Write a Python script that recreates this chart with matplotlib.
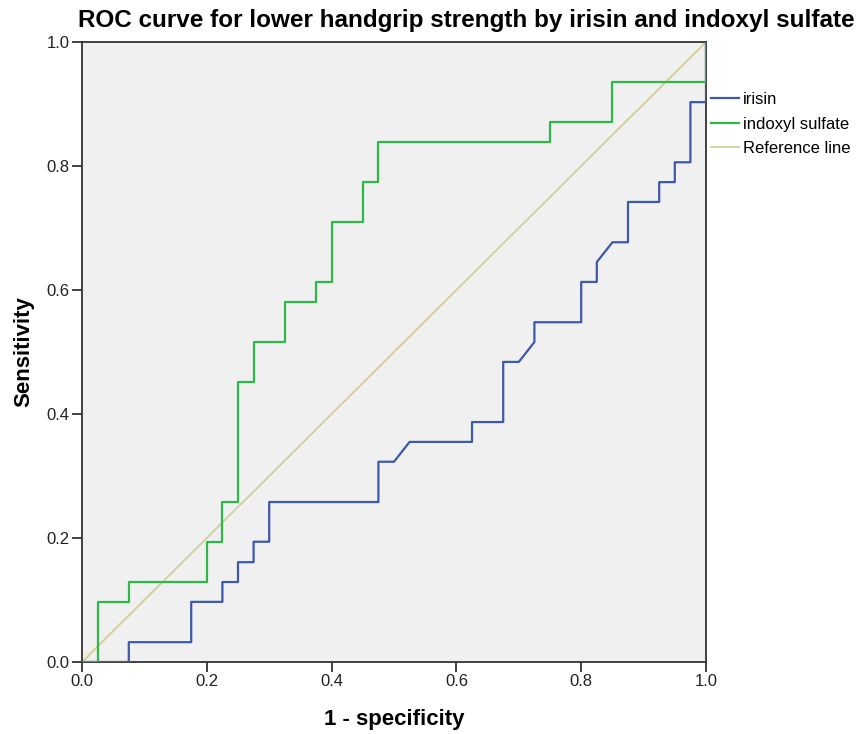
import matplotlib
matplotlib.use("Agg")
import matplotlib.pyplot as plt

plt.rcParams['font.family'] = ['Liberation Sans', 'DejaVu Sans']

# ROC vertices (1 - specificity, sensitivity)
irisin_fpr = [0, 0.075, 0.075, 0.175, 0.175, 0.225, 0.225, 0.25, 0.25, 0.275, 0.275, 0.3, 0.3,
              0.475, 0.475, 0.5, 0.525, 0.625, 0.625, 0.675, 0.675, 0.7, 0.725, 0.725, 0.8, 0.8,
              0.825, 0.825, 0.85, 0.875, 0.875, 0.925, 0.925, 0.95, 0.95, 0.975, 0.975, 1.0, 1.0]
irisin_tpr = [0, 0, 0.032, 0.032, 0.097, 0.097, 0.129, 0.129, 0.161, 0.161, 0.194, 0.194, 0.258,
              0.258, 0.323, 0.323, 0.355, 0.355, 0.387, 0.387, 0.484, 0.484, 0.516, 0.548, 0.548, 0.613,
              0.613, 0.645, 0.677, 0.677, 0.742, 0.742, 0.774, 0.774, 0.806, 0.806, 0.903, 0.903, 1.0]

indoxyl_fpr = [0, 0.025, 0.025, 0.075, 0.075, 0.2, 0.2, 0.225, 0.225, 0.25, 0.25, 0.275, 0.275,
               0.325, 0.325, 0.375, 0.375, 0.4, 0.4, 0.45, 0.45, 0.475, 0.475, 0.75, 0.75, 0.85,
               0.85, 1.0, 1.0]
indoxyl_tpr = [0, 0, 0.097, 0.097, 0.129, 0.129, 0.194, 0.194, 0.258, 0.258, 0.452, 0.452, 0.516,
               0.516, 0.581, 0.581, 0.613, 0.613, 0.710, 0.710, 0.774, 0.774, 0.839, 0.839, 0.871,
               0.871, 0.935, 0.935, 1.0]

ref_x = [0, 1]
ref_y = [0, 1]

ticks = [0.0, 0.2, 0.4, 0.6, 0.8, 1.0]
tick_labels = ["0.0", "0.2", "0.4", "0.6", "0.8", "1.0"]

fig = plt.figure(figsize=(8.59, 7.34), dpi=100)
ax = fig.add_axes([82/859, 72/734, 624/859, 620/734])
ax.set_facecolor('#F0F0F0')

ax.plot(irisin_fpr, irisin_tpr, color='#3E58AC', lw=1.6, label='irisin', zorder=3)
ax.plot(indoxyl_fpr, indoxyl_tpr, color='#2EB848', lw=1.6, label='indoxyl sulfate', zorder=3)
ax.plot(ref_x, ref_y, color='#D3CE97', lw=1.3, label='Reference line', zorder=2)

ax.set_xlim(0, 1)
ax.set_ylim(0, 1)
ax.set_xticks(ticks)
ax.set_xticklabels(tick_labels)
ax.set_yticks(ticks)
ax.set_yticklabels(tick_labels)
ax.tick_params(direction='out', length=7, width=1.2, labelsize=12, colors='#222222', pad=2)
for s in ax.spines.values():
    s.set_color('#333333')
    s.set_linewidth(1.3)

ax.set_xlabel('1 - specificity', fontsize=16, fontweight='bold', labelpad=14)
ax.set_ylabel('Sensitivity', fontsize=16, fontweight='bold', labelpad=9)

fig.text(466/859, 1 - 21/734, 'ROC curve for lower handgrip strength by irisin and indoxyl sulfate',
         ha='center', va='center', fontsize=17.5, fontweight='bold')

ax.legend(loc='upper left', bbox_to_anchor=(711/859, 1 - 92/734), bbox_transform=fig.transFigure,
          frameon=False, fontsize=12, handlelength=1.68, handletextpad=0.24,
          labelspacing=0.57, borderaxespad=0, borderpad=0)

fig.savefig('out.png', dpi=100)
